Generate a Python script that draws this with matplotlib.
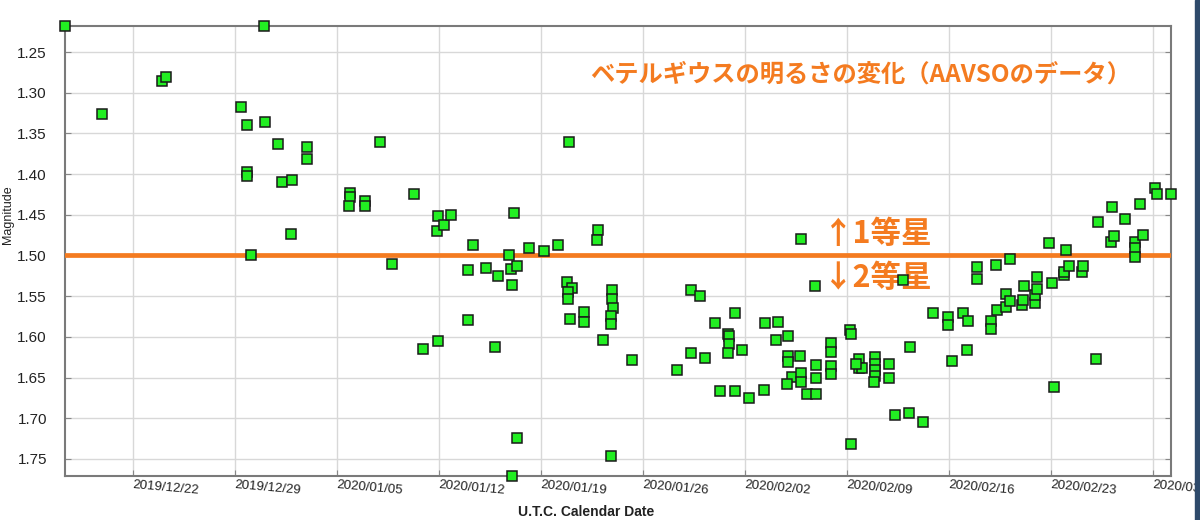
import numpy as np
import pandas as pd
import matplotlib
matplotlib.use("Agg")
import matplotlib.pyplot as plt
import matplotlib.dates as mdates
import matplotlib.ticker as mtick
from matplotlib.patches import Rectangle

# AAVSO visual observations of Betelgeuse, JD - 2458800
JD0 = 2458800.0
jd = [34.81, 37.37, 41.45, 41.76, 46.89, 47.28, 47.33, 47.33, 47.56, 48.49,
      48.56, 49.45, 51.42, 51.42, 49.71, 50.39, 50.32, 56.41, 54.37, 54.37,
      54.30, 55.39, 55.39, 58.77, 57.26, 59.36, 60.43, 60.36, 60.81, 61.28,
      60.43, 62.79, 62.45, 62.45, 63.71, 64.55, 64.33, 65.63, 65.31, 65.40,
      65.81, 65.49, 65.81, 65.49, 66.67, 67.71, 68.63, 69.38, 69.25, 69.63,
      69.32, 69.36, 69.46, 70.45, 70.45, 71.42, 71.35, 71.76, 72.37, 72.37,
      72.46, 72.30, 72.30, 72.30, 73.75, 76.80, 77.78, 78.44, 77.78, 78.74,
      79.44, 80.82, 79.77, 80.78, 80.34, 80.38, 80.38, 80.34, 81.26, 81.76,
      82.77, 82.86, 83.75, 83.63, 84.43, 84.43, 84.43, 85.30, 84.75, 84.40,
      85.36, 85.36, 85.36, 85.76, 86.36, 86.31, 86.36, 86.36, 87.39, 87.39,
      87.37, 87.37, 88.69, 88.74, 88.74, 89.33, 89.33, 89.53, 89.15, 90.40,
      90.40, 90.40, 90.40, 90.34, 91.39, 91.39, 91.78, 92.74, 93.72, 92.83,
      92.35, 94.37, 95.44, 95.44, 95.74, 96.47, 96.81, 96.72, 97.43, 97.43,
      98.71, 99.71, 98.41, 98.41, 98.80, 99.39, 99.44, 99.71, 100.54, 100.58,
      100.63, 101.39, 101.39, 101.55, 101.57, 102.57, 102.69, 103.38, 103.38, 103.72,
      104.66, 104.70, 105.62, 102.37, 103.56, 105.72, 106.69, 106.60, 106.80, 107.58,
      108.59, 108.30, 108.30, 108.30, 108.82, 109.64, 109.80, 110.75]
mag = [1.218, 1.326, 1.285, 1.281, 1.318, 1.340, 1.397, 1.402, 1.499, 1.218,
       1.336, 1.363, 1.367, 1.381, 1.410, 1.407, 1.473, 1.360, 1.423, 1.428,
       1.439, 1.433, 1.439, 1.425, 1.510, 1.615, 1.452, 1.470, 1.463, 1.450,
       1.605, 1.487, 1.518, 1.579, 1.515, 1.525, 1.613, 1.448, 1.499, 1.517,
       1.513, 1.536, 1.724, 1.771, 1.491, 1.494, 1.487, 1.360, 1.533, 1.540,
       1.545, 1.554, 1.578, 1.570, 1.582, 1.469, 1.481, 1.604, 1.543, 1.553,
       1.564, 1.574, 1.584, 1.746, 1.628, 1.641, 1.543, 1.550, 1.620, 1.626,
       1.583, 1.571, 1.666, 1.667, 1.596, 1.599, 1.609, 1.620, 1.616, 1.675,
       1.665, 1.583, 1.582, 1.604, 1.599, 1.623, 1.631, 1.624, 1.649, 1.658,
       1.645, 1.656, 1.480, 1.670, 1.670, 1.538, 1.635, 1.651, 1.608, 1.618,
       1.636, 1.646, 1.591, 1.596, 1.732, 1.627, 1.638, 1.638, 1.633, 1.625,
       1.633, 1.641, 1.648, 1.655, 1.633, 1.651, 1.696, 1.694, 1.705, 1.613,
       1.530, 1.571, 1.576, 1.585, 1.630, 1.571, 1.580, 1.616, 1.514, 1.529,
       1.512, 1.504, 1.581, 1.590, 1.567, 1.563, 1.547, 1.556, 1.561, 1.555,
       1.537, 1.559, 1.549, 1.541, 1.526, 1.534, 1.662, 1.524, 1.520, 1.513,
       1.520, 1.513, 1.627, 1.485, 1.493, 1.459, 1.441, 1.483, 1.476, 1.455,
       1.437, 1.483, 1.491, 1.502, 1.475, 1.417, 1.424, 1.424]

first_mag_limit = 1.50
title = "ベテルギウスの明るさの変化（AAVSOのデータ）"
label_up = "↑1等星"
label_down = "↓2等星"

orange = "#f47b20"
jp_font = ["Noto Sans CJK JP", "DejaVu Sans"]
plt.rcParams["font.family"] = ["Liberation Sans", "DejaVu Sans"]

# JD -> datetime (unix epoch is JD 2440587.5)
jd_full = np.array(jd) + JD0
dates = pd.to_datetime(jd_full - 2440587.5, unit="D").to_numpy()
mag = np.array(mag)

fig = plt.figure(figsize=(12, 5.2), dpi=100)
ax = fig.add_axes([0.0542, 0.0846, 0.9217, 0.8654])

ax.plot(dates, mag, "s", ms=7, mfc="#22ee22", mec="#1a1a1a", mew=1.1,
        clip_on=False, zorder=4)
ax.axhline(first_mag_limit, color=orange, lw=3.4, zorder=3)

ax.set_xlim(dates.min(), dates.max())
ax.set_ylim(mag.max(), mag.min())

ax.yaxis.set_major_locator(mtick.MultipleLocator(0.05))
ax.yaxis.set_major_formatter(mtick.FormatStrFormatter("%.2f"))
ax.xaxis.set_major_locator(mdates.WeekdayLocator(byweekday=mdates.SU))
ax.xaxis.set_major_formatter(mdates.DateFormatter("%Y/%m/%d"))

ax.grid(True, color="#d8d8d8", lw=1.0, zorder=0)
ax.set_axisbelow(True)
for s in ax.spines.values():
    s.set_color("#7a7a7a")
    s.set_linewidth(1.5)

ax.tick_params(axis="y", direction="in", length=4, color="#888888",
               labelsize=11, pad=13, right=True, labelcolor="#222222")
ax.tick_params(axis="x", direction="in", length=4, color="#888888",
               labelsize=9.5, pad=2, labelcolor="#222222")
for lab in ax.get_xticklabels():
    lab.set_rotation(-5)
    lab.set_ha("left")
    lab.set_va("top")
    lab.set_rotation_mode("anchor")

ax.set_ylabel("Magnitude", fontsize=9, color="#222222")
ax.yaxis.set_label_coords(-0.046, 0.58)
ax.set_xlabel("U.T.C. Calendar Date", fontsize=10, fontweight="bold",
              color="#222222", va="center")
ax.xaxis.set_label_coords(0.471, -0.08)

ax.text(0.719, 0.891, title, transform=ax.transAxes, color=orange,
        fontsize=17.5, fontweight="bold", family=jp_font, ha="center", va="center")
ax.text(0.685, 0.538, label_up, transform=ax.transAxes, color=orange,
        fontsize=22, fontweight="bold", family=jp_font, ha="left", va="center")
ax.text(0.685, 0.44, label_down, transform=ax.transAxes, color=orange,
        fontsize=22, fontweight="bold", family=jp_font, ha="left", va="center")

# dark page edge at the far right of the screenshot
fig.patches.append(Rectangle((0.9955, 0), 0.0045, 1, transform=fig.transFigure,
                             color="#2e4a6b", zorder=0))

fig.savefig("out.png", dpi=100)
